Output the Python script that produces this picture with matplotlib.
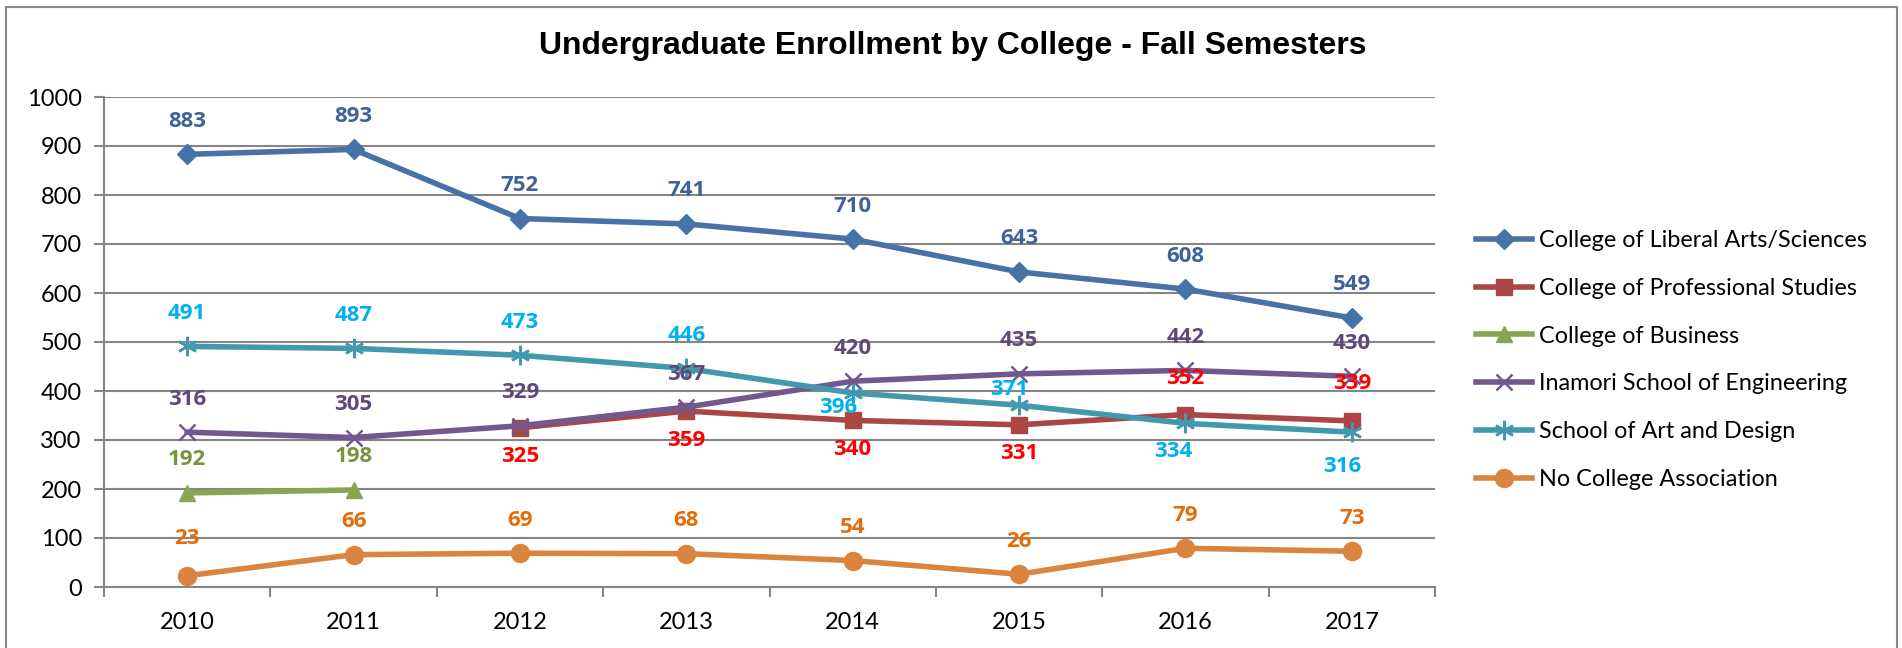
import numpy as np
import matplotlib
matplotlib.use('Agg')
import matplotlib.pyplot as plt
from matplotlib.patches import Rectangle

# data
years = ['2010', '2011', '2012', '2013', '2014', '2015', '2016', '2017']
liberal = [883, 893, 752, 741, 710, 643, 608, 549]
professional = [None, None, 325, 359, 340, 331, 352, 339]
business = [192, 198, None, None, None, None, None, None]
inamori = [316, 305, 329, 367, 420, 435, 442, 430]
artdesign = [491, 487, 473, 446, 396, 371, 334, 316]
nocollege = [23, 66, 69, 68, 54, 26, 79, 73]

names = ['College of Liberal Arts/Sciences', 'College of Professional Studies',
         'College of Business', 'Inamori School of Engineering',
         'School of Art and Design', 'No College Association']

# style per series: line colour, marker, marker size, label colour
styles = [
    ('#4572A7', 'D', 10, '#3E6398'),
    ('#AA4643', 's', 11, '#FF0000'),
    ('#89A54E', '^', 12, '#77933C'),
    ('#71588F', 'x', 12, '#60497A'),
    ('#4198AF', (6, 2, 0), 14, '#00B0F0'),
    ('#DB843D', 'o', 13, '#E46C0A'),
]

# label offsets in pixels (dx, dy) for each point
up = (0, 33)
dn = (0, -29)
offsets = [
    [up] * 8,
    [dn, dn, dn, dn, dn, dn, (0, 36), (0, 37)],
    [up] * 8,
    [up] * 8,
    [up, up, up, up, (-14, -15), (-10, 16), (-12, -28), (-10, -34)],
    [(0, 37), up, up, up, up, up, up, up],
]

plt.rcParams['font.family'] = ['Lato', 'DejaVu Sans']

fig = plt.figure(figsize=(19.02, 6.48), dpi=100)
ax = fig.add_axes([104 / 1902, 1 - 587 / 648, (1435 - 104) / 1902, (587 - 97) / 648])

x = np.arange(len(years))
series = [liberal, professional, business, inamori, artdesign, nocollege]
for vals, name, st, offs in zip(series, names, styles, offsets):
    col, mk, ms, lcol = st
    y = np.array([np.nan if v is None else v for v in vals], dtype=float)
    mew = 1.8 if mk in ('x', (6, 2, 0)) else 1
    ax.plot(x, y, color=col, lw=4, marker=mk, markersize=ms,
            markeredgewidth=mew, markeredgecolor=col, markerfacecolor=col,
            label=name, zorder=3)
    for xi, v, o in zip(x, vals, offs):
        if v is None:
            continue
        ax.annotate(str(v), (xi, v), xytext=o, textcoords='offset pixels',
                    ha='center', va='center', fontsize=16, fontweight='bold',
                    color=lcol, zorder=5, family=['Open Sans', 'DejaVu Sans'])

ax.set_xlim(-0.5, len(years) - 0.5)
ax.set_ylim(0, 1000)
ax.set_yticks(range(0, 1001, 100))
ax.set_xticks(x)
ax.set_xticklabels(years)
ax.set_xticks(np.arange(-0.5, len(years), 1), minor=True)
ax.tick_params(axis='x', which='major', length=0, pad=18, labelsize=17)
ax.tick_params(axis='x', which='minor', length=7, width=1.5, color='#868686')
ax.tick_params(axis='y', length=7, width=1.5, color='#868686', labelsize=17, pad=9)
ax.grid(axis='y', color='#868686', lw=1.5)
ax.set_axisbelow(True)
for s in ['top', 'right']:
    ax.spines[s].set_visible(False)
for s in ['left', 'bottom']:
    ax.spines[s].set_color('#868686')
    ax.spines[s].set_linewidth(1.5)

fig.text(953 / 1902, 1 - 46 / 648, 'Undergraduate Enrollment by College - Fall Semesters',
         ha='center', va='center', fontsize=23, fontweight='bold',
         family=['Liberation Sans', 'DejaVu Sans'])

fig.legend(loc='center left', bbox_to_anchor=(1455 / 1902, 1 - 360 / 648),
           frameon=False, fontsize=16.8, handlelength=2.4, handletextpad=0.3,
           labelspacing=1.15)

# outer chart border
fig.patches.append(Rectangle((6 / 1902, -0.05), (1897 - 6) / 1902, 1.05 - 7 / 648,
                             transform=fig.transFigure, fill=False,
                             edgecolor='#898989', lw=1.5))

fig.savefig('out.png', dpi=100)
